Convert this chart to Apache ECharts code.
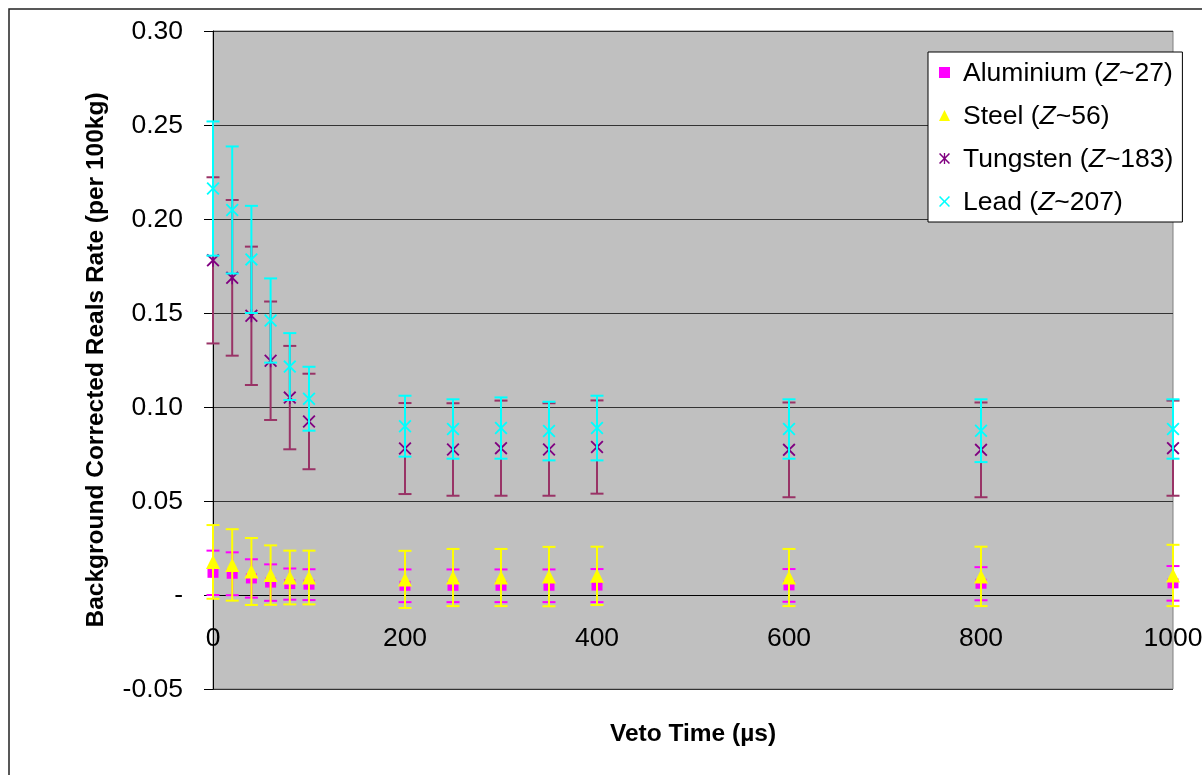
<!DOCTYPE html>
<html>
<head>
<meta charset="utf-8">
<script src="https://cdn.jsdelivr.net/npm/echarts@6/dist/echarts.min.js"></script>
<style>html,body{margin:0;padding:0;background:#fff;}#c{width:1202px;height:775px;}</style>
</head>
<body>
<div id="c"></div>
<script>
// ---- data ----
const vetoTimes = [0, 20, 40, 60, 80, 100, 200, 250, 300, 350, 400, 600, 800, 1000];
const materials = ['Aluminium', 'Steel', 'Tungsten', 'Lead'];
const zValues = [27, 56, 183, 207];

const aluminium    = [0.0118, 0.0113, 0.0088, 0.0066, 0.0058, 0.0055, 0.0049, 0.0049, 0.0049, 0.0049, 0.0050, 0.0051, 0.0060, 0.0062];
const aluminiumErr = [0.0118, 0.0114, 0.0102, 0.0097, 0.0083, 0.0082, 0.0087, 0.0087, 0.0087, 0.0087, 0.0088, 0.0087, 0.0088, 0.0092];
const steel        = [0.0176, 0.0160, 0.0125, 0.0106, 0.0093, 0.0093, 0.0083, 0.0093, 0.0093, 0.0098, 0.0102, 0.0093, 0.0099, 0.0104];
const steelErr     = [0.0196, 0.0190, 0.0178, 0.0158, 0.0143, 0.0143, 0.0152, 0.0152, 0.0152, 0.0158, 0.0155, 0.0152, 0.0158, 0.0163];
const tungsten     = [0.1780, 0.1687, 0.1485, 0.1246, 0.1050, 0.0923, 0.0779, 0.0774, 0.0781, 0.0774, 0.0787, 0.0772, 0.0772, 0.0781];
const tungstenErr  = [0.0442, 0.0414, 0.0368, 0.0315, 0.0275, 0.0254, 0.0242, 0.0246, 0.0253, 0.0246, 0.0248, 0.0252, 0.0252, 0.0253];
const lead         = [0.2162, 0.2048, 0.1785, 0.1460, 0.1215, 0.1044, 0.0898, 0.0883, 0.0888, 0.0872, 0.0888, 0.0883, 0.0874, 0.0883];
const leadErr      = [0.0357, 0.0338, 0.0285, 0.0224, 0.0178, 0.0170, 0.0162, 0.0158, 0.0163, 0.0156, 0.0172, 0.0158, 0.0167, 0.0158];

const xTicks = [0, 200, 400, 600, 800, 1000];
const yMin = -0.05, yMax = 0.30;

// ---- styling ----
const FONT = 'Liberation Sans, Arial, sans-serif';
const ASTERISK = 'path://M0,1 L1,0 L5,4 L9,0 L10,1 L6,5 L10,9 L9,10 L5,6 L1,10 L0,9 L4,5 Z M4.4,0 L5.6,0 L5.6,10 L4.4,10 Z';
const CROSS = 'path://M0,1 L1,0 L5,4 L9,0 L10,1 L6,5 L10,9 L9,10 L5,6 L1,10 L0,9 L4,5 Z';

const styles = [
  {marker: '#FF00FF', bar: '#FF00FF', symbol: 'rect', size: [11, 10]},
  {marker: '#FFFF00', bar: '#FFFF00', symbol: 'triangle', size: 14},
  {marker: '#800080', bar: '#993366', symbol: ASTERISK, size: 13},
  {marker: '#00FFFF', bar: '#00FFFF', symbol: CROSS, size: 13}
];
const values = [aluminium, steel, tungsten, lead];
const errors = [aluminiumErr, steelErr, tungstenErr, leadErr];

function errRender(color) {
  return function (params, api) {
    const x = api.value(0), y = api.value(1), e = api.value(2);
    const top = api.coord([x, y + e]);
    const bot = api.coord([x, y - e]);
    const hw = 6.5;
    const st = {stroke: color, lineWidth: 2};
    return {
      type: 'group',
      children: [
        {type: 'line', shape: {x1: top[0], y1: top[1], x2: bot[0], y2: bot[1]}, style: st},
        {type: 'line', shape: {x1: top[0] - hw, y1: top[1], x2: top[0] + hw, y2: top[1]}, style: st},
        {type: 'line', shape: {x1: bot[0] - hw, y1: bot[1], x2: bot[0] + hw, y2: bot[1]}, style: st}
      ]
    };
  };
}

const series = [];
materials.forEach((m, k) => {
  series.push({
    name: m + ' error',
    type: 'custom',
    clip: false,
    silent: true,
    renderItem: errRender(styles[k].bar),
    data: vetoTimes.map((x, i) => [x, values[k][i], errors[k][i]]),
    z: 2 + k * 2
  });
  series.push({
    name: m,
    type: 'scatter',
    symbol: styles[k].symbol,
    symbolSize: styles[k].size,
    itemStyle: {color: styles[k].marker, opacity: 1},
    data: vetoTimes.map((x, i) => [x, values[k][i]]),
    z: 3 + k * 2
  });
});

const chart = echarts.init(document.getElementById('c'), null, {renderer: 'canvas'});
chart.setOption({
  animation: false,
  backgroundColor: '#ffffff',
  textStyle: {fontFamily: FONT},
  graphic: [{
    type: 'rect', silent: true, z: -10,
    shape: {x: 9, y: 9, width: 1210, height: 790},
    style: {fill: 'none', stroke: '#222', lineWidth: 1.5}
  }],
  grid: {
    left: 213, top: 31, right: 29, bottom: 86,
    containLabel: false, outerBoundsMode: 'none',
    show: true, backgroundColor: '#C0C0C0', borderColor: '#808080', borderWidth: 1
  },
  legend: {
    orient: 'vertical', left: 928, top: 52,
    backgroundColor: '#ffffff', borderColor: '#000', borderWidth: 1,
    padding: [8, 9, 6, 11], itemGap: 16, itemWidth: 11, itemHeight: 11,
    textStyle: {fontSize: 26.5, color: '#000', fontFamily: FONT, padding: [2, 0, 0, 8],
      rich: {i: {fontStyle: 'italic', fontSize: 26.5, color: '#000', fontFamily: FONT}}},
    data: materials.map((m, k) => ({name: m, icon: styles[k].symbol})),
    formatter: function (name) {
      const k = materials.indexOf(name);
      return name + ' ({i|Z}~' + zValues[k] + ')';
    },
    selectedMode: false
  },
  xAxis: {
    type: 'value', min: xTicks[0], max: xTicks[xTicks.length - 1], interval: 200,
    name: 'Veto Time (µs)', nameLocation: 'middle', nameGap: 127,
    nameTextStyle: {fontSize: 24.5, fontWeight: 'bold', color: '#000', fontFamily: FONT},
    axisLine: {onZero: false, lineStyle: {color: '#000', width: 1}},
    axisTick: {show: false},
    axisLabel: {fontSize: 26.5, color: '#000', margin: 30, fontFamily: FONT, showMinLabel: true, showMaxLabel: true,
      formatter: v => String(v)},
    splitLine: {show: false}
  },
  yAxis: {
    type: 'value', min: yMin, max: yMax, interval: 0.05,
    name: 'Background Corrected Reals Rate (per 100kg)', nameLocation: 'middle', nameGap: 104,
    nameTextStyle: {fontSize: 24.5, fontWeight: 'bold', color: '#000', fontFamily: FONT},
    axisLine: {show: true, onZero: false, lineStyle: {color: '#000', width: 1}},
    axisTick: {show: true, inside: false, length: 9, lineStyle: {color: '#000'}},
    axisLabel: {fontSize: 26.5, color: '#000', margin: 30, fontFamily: FONT, lineHeight: 26, verticalAlign: 'top',
      padding: [-12, 0, 0, 0],
      formatter: v => (Math.abs(v) < 1e-9 ? '-' : v.toFixed(2))},
    splitLine: {show: true, lineStyle: {color: '#333', width: 1}}
  },
  series: series
});

// place the x axis on the y = 0 line (as in the original chart), using the library's own scale
const zeroPx = chart.convertToPixel({yAxisIndex: 0}, 0);
const bottomPx = chart.convertToPixel({yAxisIndex: 0}, yMin);
chart.setOption({xAxis: {offset: zeroPx - bottomPx}});
</script>
</body>
</html>
